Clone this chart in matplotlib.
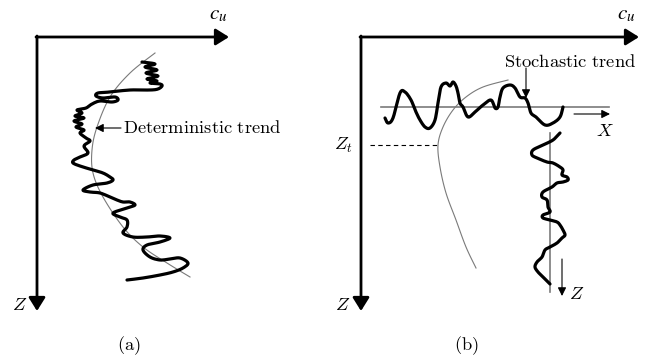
import matplotlib
matplotlib.use("Agg")
import matplotlib.pyplot as plt
import numpy as np

plt.rcParams["mathtext.fontset"] = "cm"

# ---- panel (a): measured profile and its deterministic trend (pixel units) ----
a_profile_x = [142, 155, 145, 157, 146, 158, 147, 157, 150, 160, 162, 158, 150, 130, 110, 98,
               96, 103, 115, 118, 112, 100, 92, 86, 77, 82, 75, 84, 74, 82, 76, 84, 80, 86, 90,
               84, 88, 80, 74, 73, 80, 93, 103, 110, 113, 107, 93, 83, 90, 100, 110, 117, 123,
               130, 135, 127, 113, 120, 127, 127, 123, 133, 147, 160, 170, 160, 147, 143, 150,
               160, 170, 180, 188, 183, 173, 160, 143, 127]
a_profile_z = [62, 64, 67, 70, 73, 76, 79, 81, 83, 84, 86, 89, 90, 90, 92, 93,
               96, 98, 97, 100, 102, 101, 104, 108, 110, 113, 116, 118, 121, 124, 127, 130, 133,
               138, 141, 146, 153, 157, 160, 163, 166, 170, 173, 177, 180, 183, 185, 190, 192,
               193, 197, 200, 202, 202, 205, 208, 213, 217, 220, 227, 233, 237, 237, 236, 238,
               242, 245, 250, 257, 260, 259, 258, 263, 268, 272, 275, 278, 280]
a_trend_x = [155, 130, 110, 97, 92, 93, 103, 123, 143, 167, 190]
a_trend_z = [53, 73, 97, 127, 150, 173, 197, 227, 247, 263, 277]

# ---- panel (b): horizontal record, vertical record and trend ----
b_horiz_x = [385, 388, 393, 400, 405, 411, 416, 420, 425, 430, 435, 438, 441, 446, 450, 453,
             456, 458, 460, 463, 468, 475, 483, 491, 495, 498, 500, 503, 510, 515, 520, 525,
             528, 531, 536, 545, 553, 560, 563]
b_horiz_z = [118, 123, 118, 93, 92, 100, 112, 120, 127, 128, 120, 103, 87, 83, 86, 82,
             86, 93, 103, 107, 117, 112, 105, 100, 108, 107, 97, 88, 85, 88, 97, 98,
             103, 113, 117, 125, 123, 117, 107]
b_vert_x = [560, 553, 543, 533, 532, 537, 547, 553, 560, 563, 562, 567, 568, 563, 557, 552,
            543, 542, 547, 548, 550, 543, 543, 550, 557, 560, 563, 565, 562, 557, 550, 545,
            542, 537, 535, 538, 543, 548, 550]
b_vert_z = [133, 140, 145, 150, 155, 158, 162, 163, 167, 170, 175, 177, 180, 182, 183, 187,
            192, 197, 200, 207, 212, 215, 218, 220, 222, 225, 230, 235, 238, 243, 247, 250,
            257, 262, 267, 272, 277, 282, 284]
b_trend_x = [508, 483, 466, 453, 443, 438, 440, 446, 456, 466, 476]
b_trend_z = [80, 87, 97, 110, 127, 145, 167, 193, 220, 247, 268]
b_zt = 145

THICK = 2.3
THIN = 0.8
GREY = "#7a7a7a"


def axis_arrow(ax, start, end, lw=2.0, hl=0.8, hw=0.5):
    ax.annotate("", xy=end, xytext=start,
                arrowprops=dict(arrowstyle=f"-|>,head_length={hl},head_width={hw}",
                                lw=lw, color="black", shrinkA=0, shrinkB=0,
                                mutation_scale=10))


def smooth(x, z, n=8):
    # Catmull-Rom pass so the traced profiles read as hand-drawn curves
    p = np.column_stack([x, z]).astype(float)
    p = np.vstack([p[0], p, p[-1]])
    out = []
    t = np.linspace(0, 1, n, endpoint=False)
    for i in range(1, len(p) - 2):
        p0, p1, p2, p3 = p[i - 1], p[i], p[i + 1], p[i + 2]
        tt = t[:, None]
        seg = 0.5 * ((2 * p1) + (-p0 + p2) * tt + (2 * p0 - 5 * p1 + 4 * p2 - p3) * tt ** 2
                     + (-p0 + 3 * p1 - 3 * p2 + p3) * tt ** 3)
        out.append(seg)
    out.append(p[-2][None, :])
    out = np.vstack(out)
    return out[:, 0], out[:, 1]


fig = plt.figure(figsize=(6.46, 3.63), dpi=100)
ax = fig.add_axes([0, 0, 1, 1])
ax.set_xlim(0, 646)
ax.set_ylim(363, 0)
ax.axis("off")

fs = 13.3

# ===== panel (a) =====
axis_arrow(ax, (36, 37), (229, 37))
axis_arrow(ax, (37, 36), (37, 311))
ax.text(218, 14, r"$\boldsymbol{c_u}$", fontsize=fs + 2, ha="center", va="center",
        math_fontfamily="stix")
ax.text(20, 305, r"$Z$", fontsize=fs, ha="center", va="center")

ax.plot(*smooth(a_trend_x, a_trend_z), color=GREY, lw=THIN)
ax.plot(*smooth(a_profile_x, a_profile_z, 6), color="black", lw=THICK,
        solid_capstyle="round", solid_joinstyle="round")

ax.annotate("", xy=(95, 128), xytext=(121, 128),
            arrowprops=dict(arrowstyle="-|>,head_length=0.5,head_width=0.25", lw=0.8,
                            color="black", shrinkA=0, shrinkB=0, mutation_scale=10))
ax.text(123, 128, r"$\mathrm{Deterministic\ trend}$", fontsize=fs, ha="left", va="center")
ax.text(129, 346, r"$\mathrm{(a)}$", fontsize=fs, ha="center", va="center")

# ===== panel (b) =====
axis_arrow(ax, (360, 37), (639, 37))
axis_arrow(ax, (361, 36), (361, 311))
ax.text(626, 14, r"$\boldsymbol{c_u}$", fontsize=fs + 2, ha="center", va="center",
        math_fontfamily="stix")
ax.text(343, 305, r"$Z$", fontsize=fs, ha="center", va="center")
ax.text(343, b_zt, r"$Z_t$", fontsize=fs, ha="center", va="center")
ax.plot([370, 438], [b_zt, b_zt], color="black", lw=0.8, ls=(0, (4, 3)))

ax.plot(*smooth(b_trend_x, b_trend_z), color=GREY, lw=THIN)

# reference lines for the horizontal and vertical records
ax.plot([381, 609], [107, 107], color=GREY, lw=1.2)
ax.plot([550, 550], [133, 292], color=GREY, lw=1.2)

ax.plot(*smooth(b_horiz_x, b_horiz_z, 6), color="black", lw=THICK,
        solid_capstyle="round", solid_joinstyle="round")
ax.plot(*smooth(b_vert_x, b_vert_z, 6), color="black", lw=THICK,
        solid_capstyle="round", solid_joinstyle="round")

thin_arrow = dict(arrowstyle="-|>,head_length=0.5,head_width=0.25", lw=0.8,
                  color="black", shrinkA=0, shrinkB=0, mutation_scale=10)
ax.annotate("", xy=(610, 114), xytext=(574, 114), arrowprops=thin_arrow)
ax.text(605, 131, r"$X$", fontsize=fs, ha="center", va="center")
ax.annotate("", xy=(562, 296), xytext=(562, 259), arrowprops=thin_arrow)
ax.text(577, 294, r"$Z$", fontsize=fs, ha="center", va="center")

ax.annotate("", xy=(526, 98), xytext=(526, 68), arrowprops=thin_arrow)
ax.text(570, 62, r"$\mathrm{Stochastic\ trend}$", fontsize=fs, ha="center", va="center")
ax.text(466, 346, r"$\mathrm{(b)}$", fontsize=fs, ha="center", va="center")

fig.savefig("out.png", dpi=100)
